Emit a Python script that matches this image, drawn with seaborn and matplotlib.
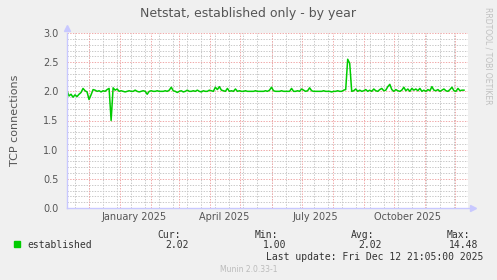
import numpy as np
import pandas as pd
import matplotlib
matplotlib.use("Agg")
import matplotlib.pyplot as plt
import seaborn as sns

# ---- data ----
start_date = "2024-11-09"
values = (
    [2.01, 1.92, 1.95, 1.90, 1.94, 1.91, 1.95]
    + [1.98, 2.05, 2.01, 1.99]
    + [1.86, 1.94]
    + [2.03, 2.02, 2.00, 2.01, 1.99, 2.01, 2.00, 2.03, 2.05]
    + [1.50]
    + [2.06, 2.02, 2.04]
    + [2.00, 2.01, 2.00, 1.99, 2.00, 2.01, 2.00, 2.00, 2.02, 2.00, 1.99, 2.00, 2.01, 2.00]
    + [1.95, 2.00]
    + [2.01, 2.00, 2.00, 2.01, 2.00, 2.00, 2.00, 2.01, 2.00, 2.02]
    + [2.07]
    + [2.01, 2.00, 1.98, 2.00, 2.01, 1.99, 2.00, 2.02, 2.00, 2.00, 2.01, 2.00, 2.02, 2.00,
       1.99, 2.01, 2.00, 2.00, 2.02, 2.01, 2.00]
    + [2.07, 2.03, 2.08, 2.02, 2.01]
    + [2.00, 2.05, 2.00]
    + [2.01, 2.00, 2.04, 2.00, 2.01]
    + [2.00, 2.00, 2.01, 2.00, 2.00, 2.00, 2.00, 2.01, 2.00, 2.00, 2.00, 2.00, 2.01, 2.00, 2.02]
    + [2.07, 2.01]
    + [2.00, 2.00, 2.00, 2.01, 2.00, 2.00, 2.00]
    + [2.00, 2.05]
    + [2.00, 2.00, 2.01, 2.00]
    + [2.04, 2.02]
    + [2.00, 2.01]
    + [2.06]
    + [2.01, 2.00, 2.00, 2.00, 2.00, 2.00, 2.01, 2.00, 2.00, 2.00, 1.99, 2.00, 2.00, 2.01,
       2.00, 2.00, 2.02, 2.03]
    + [2.55, 2.48]
    + [2.00, 2.01, 2.04, 2.00, 2.02, 2.00, 2.01, 2.03, 2.00, 2.02, 2.00, 2.04, 2.01, 2.00,
       2.03, 2.05, 2.01, 2.02]
    + [2.08, 2.12, 2.03]
    + [2.00, 2.03, 2.01, 2.00, 2.02, 2.07, 2.01, 2.04, 2.00, 2.05, 2.02, 2.04, 2.01, 2.05,
       2.00, 2.02, 2.00, 2.03, 2.01, 2.08, 2.02, 2.01, 2.03, 2.00, 2.02, 2.04, 2.01, 2.00,
       2.03, 2.07, 2.01, 2.00, 2.05, 2.01, 2.02, 2.02]
)
month_labels = ["January 2025", "April 2025", "July 2025", "October 2025"]
month_label_dates = ["2025-01-15", "2025-04-15", "2025-07-15", "2025-10-15"]
legend_name = "established"
stat_names = ["Cur:", "Min:", "Avg:", "Max:"]
stat_values = ["2.02", "1.00", "2.02", "14.48"]

dates = pd.date_range(start_date, periods=len(values), freq="2D")
df = pd.DataFrame({"date": dates, "value": values})

# ---- figure ----
BG = "#F0F0F0"
TXT = "#555555"
AXC = "#C8C8FF"
RED = "#F0A8A8"
GRAY = "#C8C8C8"
GREEN = "#00CC00"

fig = plt.figure(figsize=(4.97, 2.80), dpi=100, facecolor=BG)
W, H = 497, 280
x0, x1, ytop, ybot = 67, 468, 33, 208
ax = fig.add_axes([x0 / W, 1 - ybot / H, (x1 - x0) / W, (ybot - ytop) / H])
ax.set_facecolor("white")

xmin = pd.Timestamp("2024-11-09")
xmax = pd.Timestamp("2025-12-14")
ax.set_xlim(xmin, xmax)
ax.set_ylim(0, 3.0)

# grid lines
dot = (0, (1.4, 1.4))
for d in pd.date_range("2024-11-17", xmax, freq="14D"):
    ax.axvline(d, color=GRAY, lw=0.7, ls=dot, zorder=1)
for yv in np.arange(0.1, 3.0001, 0.1):
    if abs(yv / 0.5 - round(yv / 0.5)) > 1e-6:
        ax.axhline(yv, color=GRAY, lw=0.7, ls=dot, zorder=1)
for d in pd.date_range("2024-12-01", xmax, freq="MS"):
    ax.axvline(d, color=RED, lw=0.7, ls=dot, zorder=2)
for yv in np.arange(0.5, 3.0001, 0.5):
    ax.axhline(yv, color=RED, lw=0.7, ls=dot, zorder=2)

sns.lineplot(data=df, x="date", y="value", ax=ax, color=GREEN, lw=1.1, zorder=5)

for s in ax.spines.values():
    s.set_visible(False)
ax.plot([0, 0], [0, 1], transform=ax.transAxes, color=AXC, lw=1, clip_on=False, zorder=6)
ax.plot([0, 1.01], [0, 0], transform=ax.transAxes, color=AXC, lw=1, clip_on=False, zorder=6)
ax.plot([0], [1.03], transform=ax.transAxes, marker="^", ms=4, color=AXC, clip_on=False)
ax.plot([1.013], [0], transform=ax.transAxes, marker=">", ms=4, color=AXC, clip_on=False)

ax.set_yticks(np.arange(0, 3.01, 0.5))
ax.set_yticklabels([f"{v:.1f}" for v in np.arange(0, 3.01, 0.5)])
ax.set_xticks(pd.to_datetime(month_label_dates))
ax.set_xticklabels(month_labels)
ax.tick_params(axis="both", length=0, labelsize=7, labelcolor=TXT, pad=3)
ax.tick_params(axis="y", pad=6)
ax.set_xlabel("")
ax.set_ylabel("TCP connections", fontsize=8, color=TXT, labelpad=17)

fig.text(248 / W, 1 - 13 / H, "Netstat, established only - by year", ha="center",
         va="center", fontsize=9, color=TXT)
fig.text(488 / W, 1 - 56 / H, "RRDTOOL / TOBI OETIKER", rotation=270, ha="center",
         va="center", fontsize=5.5, color="#C0C0C0")

mono = "DejaVu Sans Mono"
fig.patches.append(plt.Rectangle((14 / W, 1 - 247 / H), 6 / W, 6 / H, color=GREEN,
                                 transform=fig.transFigure, figure=fig))
fig.text(27 / W, 1 - 245 / H, legend_name, fontsize=7, family=mono, color="#333333",
         va="center")
stat_x = [181, 278, 374, 470]
for i in range(4):
    fig.text(stat_x[i] / W, 1 - 235 / H, stat_names[i], fontsize=7, family=mono,
             color="#333333", va="center", ha="right")
    fig.text((stat_x[i] + 8) / W, 1 - 245 / H, stat_values[i], fontsize=7, family=mono,
             color="#333333", va="center", ha="right")
fig.text(483 / W, 1 - 257 / H, "Last update: Fri Dec 12 21:05:00 2025", fontsize=7,
         family=mono, color="#333333", va="center", ha="right")
fig.text(249 / W, 1 - 269 / H, "Munin 2.0.33-1", fontsize=5.5, color="#BBBBBB",
         va="center", ha="center")

fig.savefig("out.png", dpi=100, facecolor=BG)
